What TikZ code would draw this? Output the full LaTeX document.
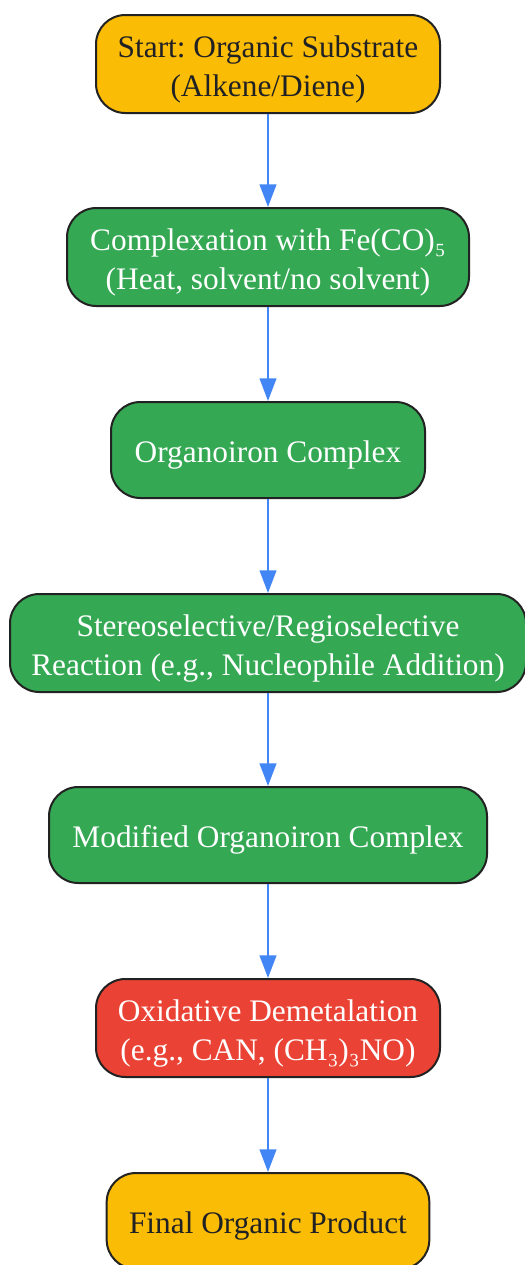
\documentclass[tikz,border=0pt]{standalone}
\usepackage{fontspec}
\setmainfont{Liberation Serif}
\frenchspacing
\usetikzlibrary{arrows.meta}
\definecolor{startyellow}{HTML}{FBBC05}
\definecolor{stepgreen}{HTML}{34A853}
\definecolor{stepred}{HTML}{EA4335}
\definecolor{wireblue}{HTML}{4285F4}
\definecolor{edgegray}{HTML}{222222}
\definecolor{darktext}{HTML}{202124}
\newcommand{\tstrut}{\rule{0pt}{24pt}}
\tikzstyle{box}=[draw=edgegray, line width=1.5pt, rounded corners=22pt, align=center, inner sep=0pt, font=\fontsize{23.5}{29.25}\selectfont]
\tikzstyle{endbox}=[box, fill=startyellow, text=darktext]
\tikzstyle{stepbox}=[box, fill=stepgreen, text=white]
\tikzstyle{redbox}=[box, fill=stepred, text=white]
\tikzstyle{wire}=[-{Triangle[length=17pt, width=12.5pt]}, line width=1.5pt, draw=wireblue]

\begin{document}
\begin{tikzpicture}[x=0.75pt, y=-0.75pt]
    \useasboundingbox (0, 0) rectangle (525, 1265);
    \node [endbox, minimum width=258pt, minimum height=73.5pt] (start) at (268, 64) {\tstrut Start: Organic Substrate\\(Alkene/Diene)};
    \node [stepbox, minimum width=301.5pt, minimum height=73.5pt] (cplx) at (268, 257) {\tstrut Complexation with Fe(CO)₅\\(Heat, solvent/no solvent)};
    \node [stepbox, minimum width=235.5pt, minimum height=72pt] (fe) at (268, 450) {\tstrut Organoiron Complex};
    \node [stepbox, minimum width=387pt, minimum height=73.5pt] (react) at (268, 643) {\tstrut Stereoselective/Regioselective\\Reaction (e.g., Nucleophile Addition)};
    \node [stepbox, minimum width=328.5pt, minimum height=72pt] (mod) at (268, 835) {\tstrut Modified Organoiron Complex};
    \node [redbox, minimum width=258pt, minimum height=73.5pt] (demet) at (268, 1028) {\tstrut Oxidative Demetalation\\(e.g., CAN, (CH₃)₃NO)};
    \node [endbox, minimum width=242pt, minimum height=72pt] (final) at (268, 1221) {\tstrut Final Organic Product};

    \draw [wire] (start) -- (cplx);
    \draw [wire] (cplx) -- (fe);
    \draw [wire] (fe) -- (react);
    \draw [wire] (react) -- (mod);
    \draw [wire] (mod) -- (demet);
    \draw [wire] (demet) -- (final);
\end{tikzpicture}
\end{document}
